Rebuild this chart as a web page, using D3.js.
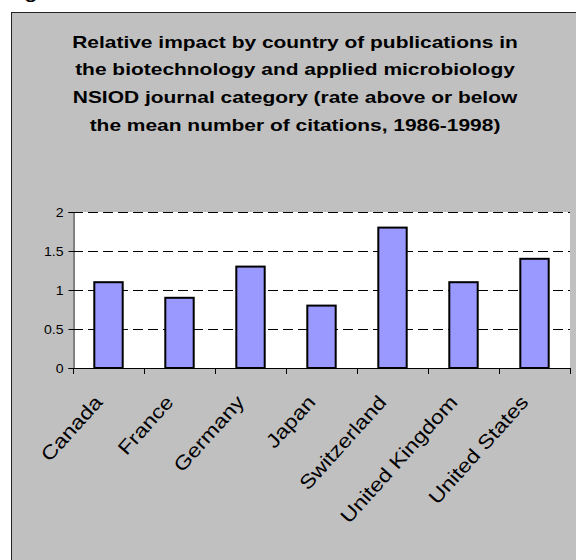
<!DOCTYPE html>
<html>
<head>
<meta charset="utf-8">
<script src="https://cdn.jsdelivr.net/npm/d3@7"></script>
<style>
  html, body { margin: 0; padding: 0; background: #ffffff; }
  svg { display: block; font-family: "Liberation Sans", Arial, sans-serif; }
</style>
</head>
<body>
<svg id="chart" width="576" height="560"></svg>
<script>
// Relative citation impact by country, 1986-1998
const countries = ["Canada", "France", "Germany", "Japan", "Switzerland", "United Kingdom", "United States"];
const impact = [1.1, 0.9, 1.3, 0.8, 1.8, 1.1, 1.4];
const yTicks = [0, 0.5, 1, 1.5, 2];
const titleLines = [
  "Relative impact by country of publications in",
  "the biotechnology and applied microbiology",
  "NSIOD journal category (rate above or below",
  "the mean number of citations, 1986-1998)"
];

const svg = d3.select("#chart");

// caption line from the page above, cut off by the top edge
svg.append("text")
  .attr("transform", "translate(6,-1) scale(1.27,1)")
  .attr("font-size", 16.5)
  .attr("font-weight", "bold")
  .attr("fill", "#000")
  .text("Figure");

// grey chart frame
svg.append("rect")
  .attr("x", 11.5).attr("y", 12.5)
  .attr("width", 600).attr("height", 600)
  .attr("fill", "#c0c0c0")
  .attr("stroke", "#222").attr("stroke-width", 1);

// title
const title = svg.append("g");
titleLines.forEach((line, i) => {
  title.append("text")
    .attr("transform", `translate(295,${47.5 + i * 27.8}) scale(1.27,1)`)
    .attr("text-anchor", "middle")
    .attr("font-size", 16.5)
    .attr("font-weight", "bold")
    .attr("fill", "#000")
    .text(line);
});

// plot area
const plot = { left: 73, right: 570, top: 212, bottom: 368 };

const x = d3.scaleBand()
  .domain(countries)
  .range([plot.left, plot.right])
  .paddingInner(0.6)
  .paddingOuter(0.3);

const y = d3.scaleLinear()
  .domain([0, 2])
  .range([plot.bottom, plot.top]);

svg.append("rect")
  .attr("x", plot.left).attr("y", plot.top)
  .attr("width", plot.right - plot.left)
  .attr("height", plot.bottom - plot.top)
  .attr("fill", "#ffffff");

// dashed gridlines
svg.append("g")
  .selectAll("line")
  .data(yTicks.filter(d => d > 0))
  .join("line")
  .attr("x1", plot.left).attr("x2", plot.right)
  .attr("y1", d => Math.round(y(d)) + 0.5)
  .attr("y2", d => Math.round(y(d)) + 0.5)
  .attr("stroke", "#000")
  .attr("stroke-width", 1)
  .attr("stroke-dasharray", "10,5");

// bars
svg.append("g")
  .selectAll("rect")
  .data(countries.map((c, i) => ({ c, v: impact[i] })))
  .join("rect")
  .attr("x", d => x(d.c))
  .attr("y", d => y(d.v))
  .attr("width", x.bandwidth())
  .attr("height", d => y(0) - y(d.v))
  .attr("fill", "#9999ff")
  .attr("stroke", "#000")
  .attr("stroke-width", 2);

// y axis
const yAxis = svg.append("g")
  .attr("transform", `translate(${plot.left + 0.5},0)`)
  .call(d3.axisLeft(y).tickValues(yTicks).tickSize(5).tickPadding(5).tickFormat(d3.format("")));
yAxis.select(".domain").attr("stroke", "#000");
yAxis.selectAll(".tick line").attr("stroke", "#000");
yAxis.selectAll(".tick text")
  .attr("font-size", 12.5)
  .attr("font-family", "Liberation Sans, Arial, sans-serif")
  .attr("fill", "#000")
  .attr("transform", "scale(1.13,1)")
  .attr("x", -10 / 1.13);

// x axis: ticks at category boundaries
const step = x.step();
const boundaries = d3.range(countries.length + 1).map(i => plot.left + i * step);
svg.append("line")
  .attr("x1", plot.left).attr("x2", plot.right)
  .attr("y1", plot.bottom + 0.5).attr("y2", plot.bottom + 0.5)
  .attr("stroke", "#000");
svg.append("g")
  .selectAll("line")
  .data(boundaries)
  .join("line")
  .attr("x1", d => Math.round(d) + 0.5).attr("x2", d => Math.round(d) + 0.5)
  .attr("y1", plot.bottom).attr("y2", plot.bottom + 6)
  .attr("stroke", "#000");

// rotated category labels
svg.append("g")
  .selectAll("text")
  .data(countries)
  .join("text")
  .attr("transform", d => `translate(${x(d) + x.bandwidth() / 2 - 5},${plot.bottom + 35}) rotate(-48) scale(1.18,1)`)
  .attr("text-anchor", "end")
  .attr("font-size", 19.5)
  .attr("fill", "#000")
  .text(d => d);
</script>
</body>
</html>
